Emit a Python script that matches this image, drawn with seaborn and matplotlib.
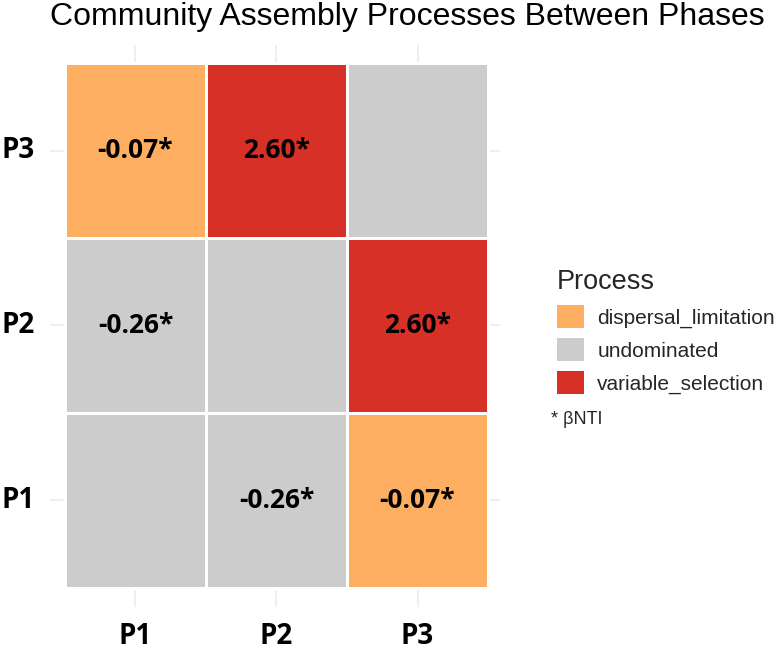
import numpy as np
import pandas as pd
import matplotlib
matplotlib.use("Agg")
import matplotlib.pyplot as plt
import seaborn as sns
from matplotlib.colors import ListedColormap
from matplotlib.patches import Patch

# phases and process assignments (rows top-to-bottom: P3, P2, P1)
phases = ["P1", "P2", "P3"]
row_phases = ["P3", "P2", "P1"]
processes = ["dispersal_limitation", "undominated", "variable_selection"]
proc_colors = ["#FDAE61", "#CCCCCC", "#D73027"]

process_grid = [
    ["dispersal_limitation", "variable_selection", "undominated"],
    ["undominated", "undominated", "variable_selection"],
    ["undominated", "undominated", "dispersal_limitation"],
]
label_grid = [
    ["-0.07*", "2.60*", ""],
    ["-0.26*", "", "2.60*"],
    ["", "-0.26*", "-0.07*"],
]

codes = pd.DataFrame([[processes.index(p) for p in row] for row in process_grid],
                     index=row_phases, columns=phases)
labels = np.array(label_grid)

sns.set_style("white")
plt.rcParams['font.family'] = ['Liberation Sans', 'DejaVu Sans']

W, H = 777, 651
fig = plt.figure(figsize=(W / 100, H / 100), dpi=100)
ax = fig.add_axes([50 / W, 1 - 607 / H, 450 / W, 562 / H])

sns.heatmap(codes, ax=ax, cmap=ListedColormap(proc_colors), vmin=-0.5, vmax=2.5,
            cbar=False, annot=labels, fmt="", linewidths=2, linecolor="white",
            annot_kws={"fontsize": 19, "fontweight": "bold", "color": "black",
                       "family": "Open Sans"})

ax.set_xlim(-0.106, 3.085)
ax.set_ylim(3.109, -0.103)
ax.set_axisbelow(True)
ax.grid(True, color="#EBEBEB", linewidth=1.1)
for s in ax.spines.values():
    s.set_visible(False)
ax.tick_params(length=0)
ax.set_xlabel("")
ax.set_ylabel("")
for t in ax.get_xticklabels() + ax.get_yticklabels():
    t.set_fontfamily("Open Sans")
    t.set_fontweight("bold")
    t.set_fontsize(20)
    t.set_color("black")
ax.tick_params(axis="x", pad=11)
ax.tick_params(axis="y", rotation=0, pad=11)

fig.text(50 / W, 1 - 17 / H, "Community Assembly Processes Between Phases",
         fontsize=23, va="center", ha="left", color="black")

handles = [Patch(facecolor=c, edgecolor="none") for c in proc_colors]
leg = fig.legend(handles, processes, title="Process", loc="upper left",
                 bbox_to_anchor=(538 / W, 1 - 250 / H), frameon=False,
                 fontsize=15, title_fontsize=19.5, handlelength=1.3, handleheight=1.3,
                 handletextpad=0.65, labelspacing=0.5)
leg._legend_box.align = "left"

fig.text(551 / W, 1 - 420 / H, "* βNTI", fontsize=13, va="center", ha="left")

fig.savefig("out.png", dpi=100)
